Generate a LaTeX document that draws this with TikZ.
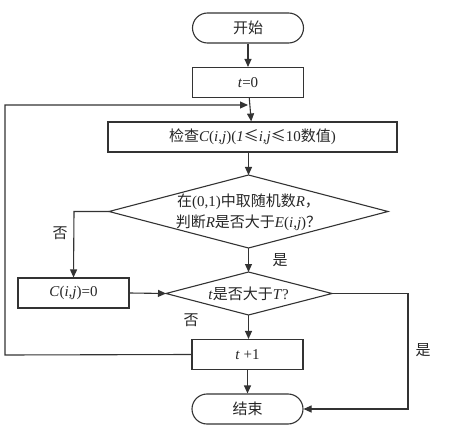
\documentclass[tikz,border=0pt]{standalone}
\usepackage{fontspec}
\setmainfont{Liberation Serif}
\newfontfamily\cjk{Noto Sans CJK SC}
\usetikzlibrary{shapes.geometric,arrows.meta}
\newcommand{\zh}[1]{{\cjk #1}}
\begin{document}
\begin{tikzpicture}[x=1pt,y=-1pt,
  line width=1.1pt,
  every node/.style={font=\fontsize{15}{18}\selectfont, text=black!85},
  stepbox/.style={draw=black!80, rectangle, minimum width=111pt, minimum height=30pt, inner sep=0pt},
  termbox/.style={draw=black!80, rectangle, rounded corners=15pt, minimum width=111pt, minimum height=30pt, inner sep=0pt},
  decide/.style={draw=black!80},
  conn/.style={draw=black!80, -{Triangle[length=8pt,width=7pt]}},
  lab/.style={font=\fontsize{15}{18}\selectfont}
]
\useasboundingbox (0,0) rectangle (450,441);
\node[termbox] (start) at (248,28) {\zh{开始}};
\node[stepbox] (t0) at (248,82.5) {\textit{t}=0};
\node[stepbox, minimum width=289pt] (check) at (252.5,137) {\zh{检查}\textit{C}(\textit{i,j})(\textit{1}\zh{≤}\textit{i,j}\zh{≤}10\zh{数值})};
% decision 1
\coordinate (d1n) at (248.5,175);
\coordinate (d1s) at (248.5,248);
\coordinate (d1w) at (109,211.5);
\coordinate (d1e) at (388,211.5);
\draw[decide] (d1n) -- (d1e) -- (d1s) -- (d1w) -- cycle;
\node[align=center, inner sep=0pt] (d1) at (248.5,212)
  {\zh{在}(0,1)\zh{中取随机数}\textit{R}\zh{，}\\[3pt]\zh{判断}\textit{R}\zh{是否大于}\textit{E}(\textit{i,j})\zh{？}};
\node[stepbox] (c0) at (73.5,293) {\textit{C}(\textit{i,j})=0};
% decision 2
\coordinate (d2n) at (248.5,272);
\coordinate (d2s) at (248.5,315);
\coordinate (d2w) at (166,293.5);
\coordinate (d2e) at (332,293.5);
\draw[decide] (d2n) -- (d2e) -- (d2s) -- (d2w) -- cycle;
\node[inner sep=0pt] (d2) at (248.5,294) {\textit{t}\zh{是否大于}\textit{T}?};
\node[stepbox] (t1) at (247.5,354.5) {\textit{t} +1};
\node[termbox] (end) at (247.5,409) {\zh{结束}};
\coordinate (loopin) at (248,105);
\coordinate (loopL) at (5,105);
\coordinate (loopB) at (5,355);
\coordinate (noA) at (74,211.5);
\coordinate (yesR) at (408,293.5);
\coordinate (yesB) at (408,409);

\draw[conn] (start) -- (t0);
\draw[conn] (t0) -- (check);
\draw[conn] (check.south -| d1n) -- (d1n);
\draw[conn] (d1s) -- (d2n);
\draw[conn] (d1w) -- (noA) -- (c0.north);
\draw[conn] (c0.east) -- (d2w);
\draw[conn] (d2s) -- (t1.north -| d2s);
\draw[conn] (t1) -- (end);
\draw[conn] (d2e) -- (yesR) -- (yesB) -- (end.east);
\draw[conn] (t1.west) -- (loopB) -- (loopL) -- (loopin);

\node[lab] (no1) at (60,233) {\zh{否}};
\node[lab] (yes1) at (280,260) {\zh{是}};
\node[lab] (no2) at (191,320) {\zh{否}};
\node[lab] (yes2) at (423,350) {\zh{是}};
\end{tikzpicture}
\end{document}
